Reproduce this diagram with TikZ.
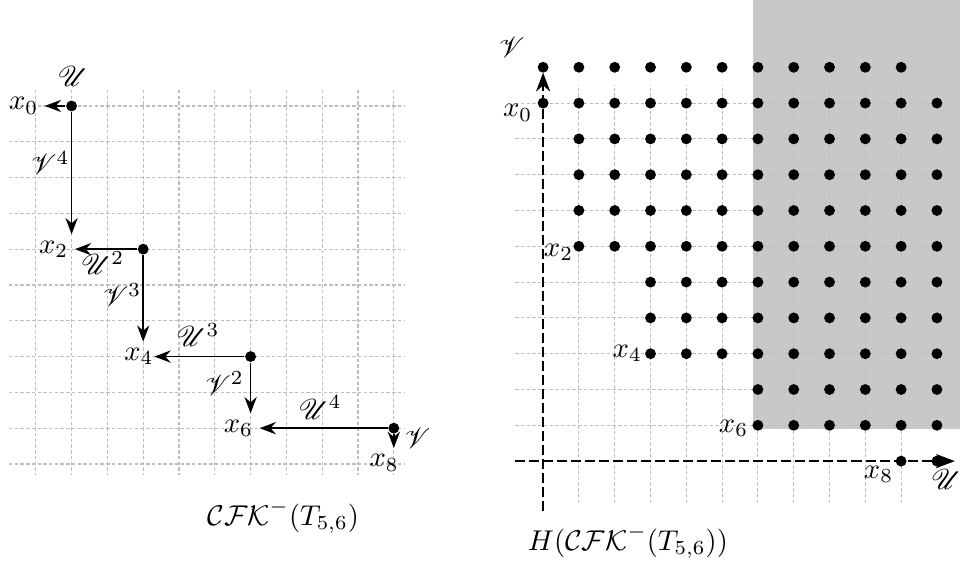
\documentclass[tikz,border=0pt]{standalone}
\usepackage{amsmath,amssymb,mathrsfs}
\usetikzlibrary{arrows.meta}
\definecolor{shadegray}{RGB}{200,200,200}
\definecolor{gridgray}{RGB}{190,190,190}

\begin{document}
\begin{tikzpicture}[x=0.44cm, y=0.44cm, >=Stealth, line width=0.6pt,
  gen/.style={circle, fill, inner sep=0pt, minimum size=3.8pt},
  gridline/.style={gridgray, line width=0.4pt, dash pattern=on 1.2pt off 0.8pt},
  axisline/.style={line width=0.8pt, dash pattern=on 3.5pt off 1.4pt},
  xlab/.style={inner sep=2pt}]
\useasboundingbox (-15.17,-2.79) rectangle (11.7,12.88);
\def\Lx{-14.17}
\def\Ly{9.92}

% the complex
\begin{scope}[shift={(\Lx,\Ly)}]
\foreach \i in {0,...,10} \draw[gridline] (\i,0.45) -- (\i,-10.3);
\foreach \j in {0,...,10} \draw[gridline] (-0.75,-\j) -- (10.3,-\j);
\node[gen] (g1) at (1,0) {};
\node[gen] (g3) at (3,-4) {};
\node[gen] (g5) at (6,-7) {};
\node[gen] (g7) at (10,-9) {};
\node[xlab] (x0) at (-0.34,0) {$x_0$};
\node[xlab] (x2) at (0.5,-4) {$x_2$};
\node[xlab] (x4) at (2.88,-7) {$x_4$};
\node[xlab] (x6) at (5.66,-9) {$x_6$};
\node[xlab] (x8) at (9.73,-9.97) {$x_8$};
\draw[->] (g1) -- (x0);
\draw[->] (g1) -- (g1 |- x2.north);
\draw[->] (g3) -- (x2);
\draw[->] (g3) -- (g3 |- x4.north);
\draw[->, shorten >=-2pt] (g5) -- (x4);
\draw[->] (g5) -- (g5 |- x6.north);
\draw[->] (g7) -- (x6);
\draw[->] (g7) -- (g7 |- x8.north);
\node (lU) at (1.04,0.82) {$\mathscr{U}$};
\node (lV4) at (0.4,-1.6) {$\mathscr{V}^4$};
\node (lU2) at (1.87,-4.38) {$\mathscr{U}^2$};
\node (lV3) at (2.41,-5.29) {$\mathscr{V}^3$};
\node (lU3) at (4.53,-6.4) {$\mathscr{U}^3$};
\node (lV2) at (5.27,-7.75) {$\mathscr{V}^2$};
\node (lU4) at (7.94,-8.42) {$\mathscr{U}^4$};
\node (lV) at (10.66,-9.28) {$\mathscr{V}$};
\end{scope}
\node (capL) at (-7.26,-1.56) {$\mathcal{CFK}^-(T_{5,6})$};

% its homology
\fill[shadegray] (5.87,0.89) rectangle (11.65,12.88);
\foreach \i in {1,...,10} \draw[gridline] (\i,-1.17) -- (\i,10.5);
\foreach \j in {1,...,10} \draw[gridline] (-0.78,\j) -- (10.75,\j);
\coordinate (vs) at (0,-1.4);
\coordinate (ve) at (0,10.85);
\coordinate (us) at (-0.78,0);
\coordinate (ue) at (11.5,0);
\draw[axisline,->] (vs) -- (ve);
\draw[axisline,->] (us) -- (ue);
\foreach \j/\a/\b in {11/0/10, 10/0/11, 9/1/11, 8/1/11, 7/1/11, 6/1/11,
  5/3/11, 4/3/11, 3/3/11, 2/6/11, 1/6/11, 0/10/11}
  \foreach \i in {\a,...,\b} \fill (\i,\j) circle (1.9pt);
\node (aV) at (-0.88,11.56) {$\mathscr{V}$};
\node (aU) at (11.26,-0.5) {$\mathscr{U}$};
\node (h0) at (-0.71,9.73) {$x_0$};
\node (h2) at (0.43,5.84) {$x_2$};
\node (h4) at (2.35,3.02) {$x_4$};
\node (h6) at (5.32,0.92) {$x_6$};
\node (h8) at (9.37,-0.36) {$x_8$};
\node (capR) at (2.37,-2.26) {$H(\mathcal{CFK}^-(T_{5,6}))$};
\end{tikzpicture}
\end{document}
